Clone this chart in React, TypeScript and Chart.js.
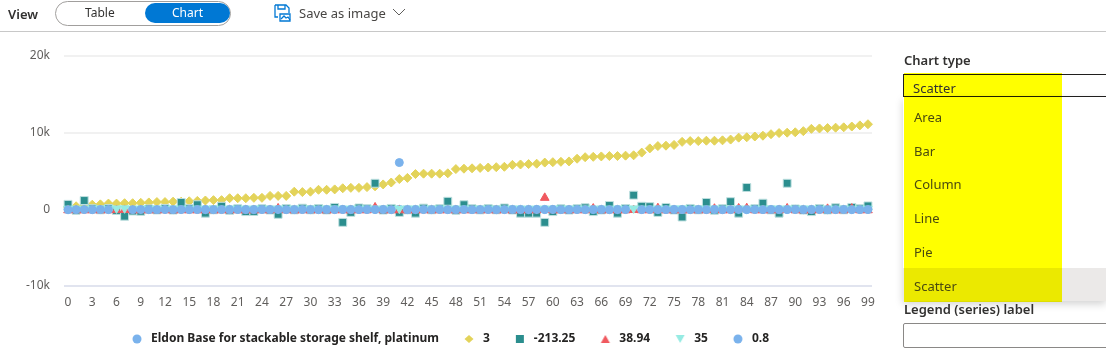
import React, { useEffect, useRef } from "react";
import { Chart, registerables } from "chart.js";

Chart.register(...registerables);

const categories = [
  "0","1","2","3","4","5","6","7","8","9","10","11","12","13","14","15","16","17","18","19",
  "20","21","22","23","24","25","26","27","28","29","30","31","32","33","34","35","36","37","38","39",
  "40","41","42","43","44","45","46","47","48","49","50","51","52","53","54","55","56","57","58","59",
  "60","61","62","63","64","65","66","67","68","69","70","71","72","73","74","75","76","77","78","79",
  "80","81","82","83","84","85","86","87","88","89","90","91","92","93","94","95","96","97","98","99",
];

const seriesLabels = ["Eldon Base for stackable storage shelf, platinum", "3", "-213.25", "38.94", "35", "0.8"];
const chartTypes = ["Area", "Bar", "Column", "Line", "Pie", "Scatter"];

const eldon = [
  38,2,6,3,2,35,null,null,5,2,8,4,12,5,3,7,2,3,6,2,
  5,4,8,2,3,6,5,2,4,9,3,5,2,7,4,3,8,2,5,6,
  3,7,4,2,9,5,3,6,2,8,4,5,3,2,7,6,3,4,5,2,
  8,3,6,4,2,5,7,3,4,2,null,6,3,5,2,8,4,3,6,2,
  5,7,3,4,2,6,5,3,8,2,4,6,3,5,2,7,4,3,6,2,
];
const three = [
  300,400,500,600,650,750,750,800,800,850,900,950,950,1000,1000,1050,1100,1150,1200,1200,
  1450,1450,1450,1500,1500,1750,1750,1750,2300,2250,2300,2550,2550,2600,2750,2800,2800,2900,3000,3250,
  3500,3950,4100,4600,4650,4650,4650,4700,5250,5300,5350,5400,5450,5500,5550,5800,5850,5900,5950,6100,
  6150,6200,6250,6600,6800,6850,6900,6950,6950,7000,7050,7400,7950,8250,8300,8400,8800,8900,8900,8950,
  8950,9000,9100,9350,9400,9500,9600,9800,9950,10000,10050,10200,10500,10550,10600,10650,10700,10800,10950,11100,
];
const minus213 = [
  650,-120,1150,80,-60,100,-150,-900,-220,-260,60,-80,120,-100,900,90,600,-500,-60,400,
  -120,80,-300,-280,70,-90,-650,110,-70,150,-60,100,-80,250,-1700,-400,180,90,3400,-100,
  120,-400,-70,-500,160,-60,90,1050,-110,600,80,-70,100,-60,180,-90,-500,-500,-500,-1700,
  -300,70,-100,90,200,-300,-80,500,-500,110,1850,400,350,-400,250,-90,-1000,120,-60,900,
  -110,80,1000,-500,2850,90,800,-70,-500,3400,60,-100,-300,110,-80,200,-60,250,90,450,
];
const red = [
  -120,-110,-130,-120,-125,-120,-100,-80,-130,-120,-130,-125,-120,-130,-120,-125,-130,-120,-125,-130,
  -120,-125,-130,-125,-120,-130,120,-120,-130,-125,-120,-125,-130,-120,-125,-130,-120,-125,250,-120,
  -130,-125,-120,-130,-125,-120,-130,-125,-120,-125,-130,-120,-125,-130,-120,-125,-130,-120,-125,1500,
  -120,-130,-125,-120,-125,100,-130,-120,-125,-130,-90,-120,-125,150,-130,-120,-125,-130,-120,-125,
  80,-130,-120,120,150,-125,-130,-120,-125,120,-120,-130,-125,-120,60,-130,-120,100,-125,-120,
];
const cyan = [
  90,85,100,95,80,90,120,130,85,100,90,95,80,105,90,85,100,90,95,80,
  90,100,85,95,90,80,100,90,95,85,105,90,100,110,90,85,95,110,100,90,
  85,95,90,100,80,90,110,95,85,100,90,95,105,80,90,95,100,85,90,95,
  90,100,85,95,105,90,80,95,100,90,120,95,85,100,90,95,120,90,85,100,
  90,95,80,100,90,85,95,100,90,110,85,95,90,100,80,95,90,85,100,90,
];
const point8 = [
  -60,-40,-30,-50,-30,-40,null,null,-40,-30,-50,-40,-30,-50,-30,-40,-30,-50,-40,-30,
  -40,-30,-50,-50,-30,-40,-30,-50,-40,-30,-40,-50,-30,-40,-30,-50,-40,-30,-40,-30,
  -50,6100,-40,-50,-30,-40,-30,-50,-40,-30,-50,-40,-30,-50,-40,-30,-40,-50,-30,-40,
  -30,-50,-40,-30,-50,-40,-30,-50,-40,-30,null,-40,-30,-50,-40,-30,-40,-50,-30,-40,
  -30,-50,-40,-30,-50,-30,-40,-30,-50,-40,-30,-50,-40,-30,-50,-40,-30,-50,-40,-30,
];

const yTicks = [-10000, 0, 10000, 20000];

const UI = '"Noto Sans", sans-serif';

function text(left: number, top: number, str: string, extra: React.CSSProperties = {}) {
  return (
    <div
      style={{
        position: "absolute", left, top, fontFamily: UI, fontSize: 13, lineHeight: "18px",
        color: "#323130", whiteSpace: "nowrap", ...extra,
      }}
    >
      {str}
    </div>
  );
}

// Legend swatch: the library draws a canvas pointStyle at its own size, without stretching it.
function swatch(kind: string, color: string) {
  const c = document.createElement("canvas");
  c.width = 12;
  c.height = 12;
  const g = c.getContext("2d")!;
  g.fillStyle = color;
  g.beginPath();
  if (kind === "circle") g.arc(6, 6, 4.5, 0, Math.PI * 2);
  else if (kind === "rect") g.rect(2, 2, 8, 8);
  else if (kind === "rectRot") { g.moveTo(6, 2); g.lineTo(10.5, 6); g.lineTo(6, 10); g.lineTo(1.5, 6); }
  else if (kind === "up") { g.moveTo(6, 2); g.lineTo(10.5, 10); g.lineTo(1.5, 10); }
  else { g.moveTo(1.5, 2); g.lineTo(10.5, 2); g.lineTo(6, 10); }
  g.closePath();
  g.fill();
  return c;
}

export default function App() {
  const ref = useRef<HTMLCanvasElement>(null);
  useEffect(() => {
    const mk = (label: string, data: (number | null)[], color: string, pointStyle: string, radius: number, order: number, border = color, rotation = 0) => ({
      label, data, order, pointStyle, pointRadius: radius, pointBorderWidth: 1, pointRotation: rotation,
      backgroundColor: color, borderColor: border, pointBackgroundColor: color, pointBorderColor: border,
      showLine: false,
    });
    const swatches = [
      swatch("circle", "#7AB2EC"), swatch("rectRot", "#E3D35A"), swatch("rect", "#2B8E8E"),
      swatch("up", "#F0595F"), swatch("down", "#96EBE3"), swatch("circle", "#7AB2EC"),
    ];
    const chart = new Chart(ref.current!, {
      type: "line",
      data: {
        labels: categories,
        datasets: [
          mk(seriesLabels[0], eldon, "#7AB2EC", "circle", 4, 6),
          mk(seriesLabels[1], three, "#E3D35A", "rectRot", 4.5, 5),
          mk(seriesLabels[2], minus213, "#2B8E8E", "rect", 5.6, 4, "#BFE0E0"),
          mk(seriesLabels[3], red, "#F0595F", "triangle", 5, 3),
          mk(seriesLabels[4], cyan, "#96EBE3", "triangle", 5, 2, "#96EBE3", 180),
          mk(seriesLabels[5], point8, "#7AB2EC", "circle", 4, 1),
        ] as any,
      },
      options: {
        animation: false,
        responsive: false,
        maintainAspectRatio: false,
        layout: { padding: { top: 56, right: 54, left: 26, bottom: 0 } },
        plugins: {
          tooltip: { enabled: false },
          legend: {
            position: "bottom",
            labels: {
              usePointStyle: true,
              pointStyleWidth: 16,
              boxHeight: 6.5,
              padding: 22,
              color: "#252423",
              font: { family: UI, size: 12, weight: "bold" },
              generateLabels: (ch: any) =>
                (Chart.defaults.plugins.legend.labels.generateLabels as any)(ch)
                  .sort((a: any, b: any) => a.datasetIndex - b.datasetIndex)
                  .map((l: any) => ({ ...l, pointStyle: swatches[l.datasetIndex], rotation: 0 })),
            },
          },
        },
        scales: {
          x: {
            type: "category",
            offset: true,
            grid: { display: false },
            border: { display: false },
            afterFit: (s: any) => { s.height = 25; },
            ticks: {
              autoSkip: false,
              maxRotation: 0,
              padding: 1,
              color: "#605E5C",
              font: { family: UI, size: 12 },
              callback: (_v: any, i: number) => (i % 3 === 0 ? categories[i] : ""),
            },
          },
          y: {
            min: yTicks[0],
            max: yTicks[3],
            afterFit: (s: any) => { s.width = 38; },
            afterBuildTicks: (s: any) => { s.ticks = yTicks.map((value) => ({ value })); },
            grid: {
              lineWidth: 2,
              drawTicks: false,
              color: (c: any) => (c.tick && c.tick.value === yTicks[0] ? "#E1E4EF" : "#F1F1F1"),
            },
            border: { display: false },
            ticks: {
              padding: 14,
              color: "#605E5C",
              font: { family: UI, size: 12 },
              callback: (v: any) => (v === 0 ? "0" : `${Number(v) / 1000}k`),
            },
          },
        },
      },
    } as any);
    return () => chart.destroy();
  }, []);

  return (
    <div style={{ position: "absolute", left: 0, top: 0, width: 1106, height: 353, overflow: "hidden", background: "#fff" }}>
      <canvas ref={ref} width={926} height={355} style={{ position: "absolute", left: 0, top: 0, width: 926, height: 355 }} />

      {text(8, 5, "View", { fontWeight: 600, fontSize: 13 })}
      <div style={{ position: "absolute", left: 55, top: 1, width: 174, height: 23, border: "1px solid #A19F9D", borderRadius: 13 }} />
      <div style={{ position: "absolute", left: 145, top: 3, width: 85, height: 20, background: "#0078D4", borderRadius: 10 }} />
      {text(85, 4, "Table", { fontSize: 12 })}
      {text(172, 4, "Chart", { fontSize: 12, color: "#fff" })}
      <svg style={{ position: "absolute", left: 274, top: 4 }} width="17" height="18" viewBox="0 0 17 18" fill="none" stroke="#0078D4" strokeWidth="1.3">
        <path d="M1 1h11l3 3v5M1 1v12h3M4 1v4h7V1" />
        <path d="M6 10h10v7H6z" />
        <path d="M7 15l3-3 2 2 2-1 2 3" />
      </svg>
      {text(299, 4, "Save as image", { fontSize: 13, color: "#484644" })}
      <svg style={{ position: "absolute", left: 392, top: 8 }} width="14" height="9" viewBox="0 0 14 9" fill="none" stroke="#605E5C" strokeWidth="1">
        <path d="M1 1l6 6 6-6" />
      </svg>
      <div style={{ position: "absolute", left: 0, top: 31, width: 1106, height: 1, background: "#C8C8C8" }} />

      {text(904, 51, "Chart type", { fontWeight: 600 })}
      <div style={{ position: "absolute", left: 903, top: 97, width: 203, height: 204, background: "#fff", boxShadow: "0 3px 8px rgba(0,0,0,0.18)" }} />
      <div style={{ position: "absolute", left: 903, top: 268, width: 203, height: 33, background: "#EBE9E8" }} />
      <div style={{ position: "absolute", left: 903, top: 74, width: 203, height: 23, borderTop: "1px solid #201F1E", borderBottom: "1px solid #201F1E", borderLeft: "1px solid #201F1E", boxSizing: "border-box" }} />
      <div style={{ position: "absolute", left: 904, top: 73, width: 158, height: 229, background: "rgba(255,255,0,1)", mixBlendMode: "multiply" }} />
      {text(913, 79, "Scatter", { color: "#323130" })}
      {chartTypes.map((t, i) => (
        <React.Fragment key={t}>{text(914, [108, 142, 175, 209, 243, 277][i], t, { color: "#4a4a10" })}</React.Fragment>
      ))}
      {text(904, 300, "Legend (series) label", { fontWeight: 600 })}
      <div style={{ position: "absolute", left: 903, top: 323, width: 210, height: 23, border: "1px solid #8A8886", borderRadius: 2 }} />
    </div>
  );
}
